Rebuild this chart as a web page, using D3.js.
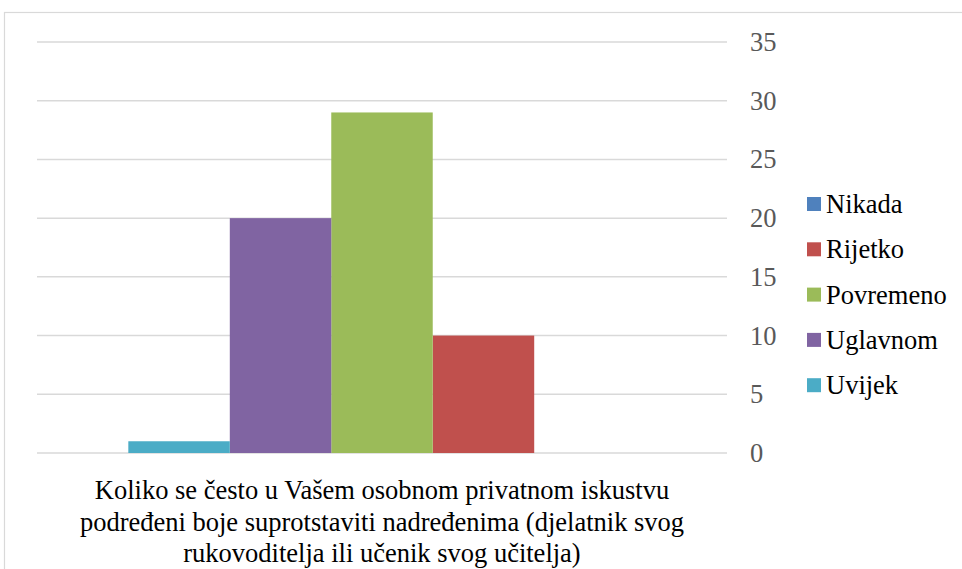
<!DOCTYPE html>
<html>
<head>
<meta charset="utf-8">
<script src="https://d3js.org/d3.v7.min.js"></script>
</head>
<body style="margin:0">
<script>
// Data (drawn order left to right is reversed from the legend order)
const category = "Koliko se često u Vašem osobnom privatnom iskustvu podređeni boje suprotstaviti nadređenima (djelatnik svog rukovoditelja ili učenik svog učitelja)";
const titleLines = [
  "Koliko se često u Vašem osobnom privatnom iskustvu",
  "podređeni boje suprotstaviti nadređenima (djelatnik svog",
  "rukovoditelja ili učenik svog učitelja)"
];
const seriesNames = ["Nikada", "Rijetko", "Povremeno", "Uglavnom", "Uvijek"];
const seriesValues = [0, 10, 29, 20, 1];
const seriesColors = ["#4F81BD", "#C0504D", "#9BBB59", "#8064A2", "#4BACC6"];
const yTicks = [0, 5, 10, 15, 20, 25, 30, 35];

const W = 962, H = 569;
const plot = { left: 37, right: 727, top: 42, bottom: 453 };
const fontFam = "'Liberation Serif'";
const fontSize = 26.5;

const svg = d3.select("body")
  .append("svg")
  .attr("width", W)
  .attr("height", H);

// chart area border (right/bottom edges fall outside the picture)
svg.append("rect")
  .attr("x", 4.5).attr("y", 12.5)
  .attr("width", 1000).attr("height", 700)
  .attr("fill", "none")
  .attr("stroke", "#d9d9d9")
  .attr("stroke-width", 1.2);

// scales
const yScale = d3.scaleLinear()
  .domain([0, 35])
  .range([plot.bottom, plot.top]);

const xCat = d3.scaleBand()
  .domain([category])
  .range([plot.left, plot.right])
  .paddingInner(0)
  .paddingOuter(0.18);

const xSeries = d3.scaleBand()
  .domain(seriesNames.slice().reverse())
  .range([0, xCat.bandwidth()])
  .padding(0);

// gridlines
svg.append("g")
  .selectAll("line")
  .data(yTicks)
  .enter().append("line")
  .attr("x1", plot.left)
  .attr("x2", plot.right)
  .attr("y1", d => yScale(d))
  .attr("y2", d => yScale(d))
  .attr("stroke", "#d9d9d9")
  .attr("stroke-width", 1.5);

// right axis, labels only
const yAxis = d3.axisRight(yScale)
  .tickValues(yTicks)
  .tickSize(0)
  .tickPadding(23);

const yAxisG = svg.append("g")
  .attr("transform", `translate(${plot.right},0)`)
  .call(yAxis);
yAxisG.select(".domain").remove();
yAxisG.selectAll("text")
  .attr("font-family", fontFam)
  .attr("font-size", fontSize)
  .attr("fill", "#595959");

// bars
const bars = seriesNames.map((name, i) => ({ name, value: seriesValues[i], color: seriesColors[i] }));
svg.append("g")
  .selectAll("rect")
  .data(bars)
  .enter().append("rect")
  .attr("x", d => xCat(category) + xSeries(d.name))
  .attr("width", xSeries.bandwidth())
  .attr("y", d => yScale(d.value))
  .attr("height", d => yScale(0) - yScale(d.value))
  .attr("fill", d => d.color);

// category label under the plot, one text per line
const cx = xCat(category) + xCat.bandwidth() / 2;
svg.append("g")
  .selectAll("text")
  .data(titleLines)
  .enter().append("text")
  .attr("text-anchor", "middle")
  .attr("font-family", fontFam)
  .attr("font-size", fontSize)
  .attr("fill", "#000")
  .attr("x", cx)
  .attr("y", (d, i) => 499 + i * 31.5)
  .text(d => d);

// legend
const legend = svg.append("g")
  .selectAll("g")
  .data(bars)
  .enter().append("g")
  .attr("transform", (d, i) => `translate(807,${204 + i * 45.3})`);

legend.append("rect")
  .attr("x", 0).attr("y", -7)
  .attr("width", 14).attr("height", 14)
  .attr("fill", d => d.color);

legend.append("text")
  .attr("x", 19)
  .attr("y", 0)
  .attr("dy", "0.34em")
  .attr("font-family", fontFam)
  .attr("font-size", fontSize)
  .attr("fill", "#000")
  .text(d => d.name);
</script>
</body>
</html>
